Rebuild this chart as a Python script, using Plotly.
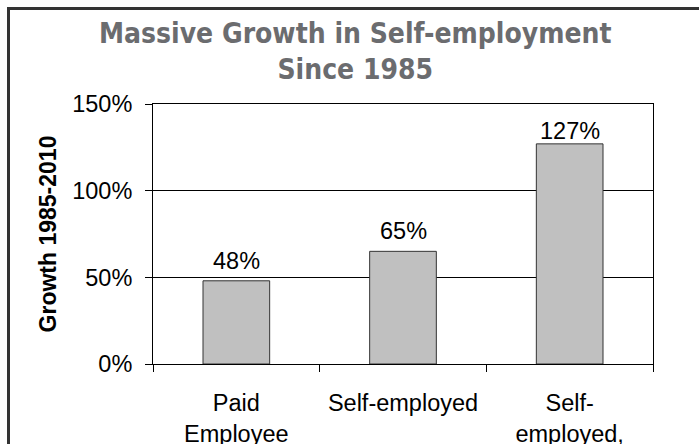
import plotly.graph_objects as go

categories = ["Paid<br>Employee", "Self-employed", "Self-<br>employed,"]
growth = [48, 65, 127]
y_ticks = [0, 50, 100, 150]
y_tick_labels = ["0%", "50%", "100%", "150%"]
title_text = "Massive Growth in Self-employment<br>Since 1985"
y_title = "Growth 1985-2010"

# label offsets (style): the tallest label sits closer to its bar, as in the source
label_yshift = [5, 5, -2]

W, H = 699, 444
L, R, T, B = 153, 46, 104, 80
pw, ph = W - L - R, H - T - B

def px_x(px):
    return (px - L) / pw

def px_y(py):
    return 1 - (py - T) / ph

BASE_FONT = "Liberation Sans, Arial, sans-serif"

fig = go.Figure(
    go.Bar(
        x=categories,
        y=growth,
        marker=dict(color="#c0c0c0", line=dict(color="#333333", width=1)),
        width=0.4,
    )
)

annotations = [
    dict(
        x=c, y=v, xref="x", yref="y",
        text=f"{v}%", showarrow=False,
        xanchor="center", yanchor="bottom", yshift=s,
        font=dict(family=BASE_FONT, size=23.5, color="#000000"),
    )
    for c, v, s in zip(categories, growth, label_yshift)
]
annotations.append(
    dict(
        x=px_x(355), xref="paper", xanchor="center",
        y=px_y(15), yref="paper", yanchor="top",
        text=title_text, showarrow=False,
        font=dict(family="Liberation Sans Narrow, DejaVu Sans Condensed, Arial Narrow, sans-serif",
                  size=28, color="#6b6c6f", weight="bold"),
    )
)

fig.update_layout(
    width=W,
    height=H,
    margin=dict(l=L, r=R, t=T, b=B, autoexpand=False),
    paper_bgcolor="white",
    plot_bgcolor="white",
    showlegend=False,
    font=dict(family=BASE_FONT, size=23.5, color="#000000"),
    annotations=annotations,
    shapes=[
        dict(
            type="path",
            xref="paper",
            yref="paper",
            path=f"M {px_x(8.5)} {px_y(460)} L {px_x(8.5)} {px_y(8.5)} L {px_x(720)} {px_y(8.5)}",
            line=dict(color="#333333", width=3),
        )
    ],
)

fig.update_xaxes(
    tickson="boundaries",
    ticks="outside",
    ticklen=7,
    tickcolor="#000000",
    showline=True,
    linecolor="#000000",
    linewidth=1,
    mirror=True,
    showgrid=False,
    ticklabelstandoff=18,
    tickfont=dict(size=23.5),
)

fig.update_yaxes(
    range=[0, 150],
    tickvals=y_ticks,
    ticktext=y_tick_labels,
    ticks="outside",
    ticklen=7,
    tickcolor="#000000",
    showline=True,
    linecolor="#000000",
    linewidth=1,
    mirror=True,
    showgrid=True,
    gridcolor="#000000",
    gridwidth=1,
    zeroline=False,
    ticklabelstandoff=8,
    tickfont=dict(size=23.5),
    title=dict(text=y_title, font=dict(size=23, weight="bold"), standoff=9),
)

fig.write_html("out.html")
